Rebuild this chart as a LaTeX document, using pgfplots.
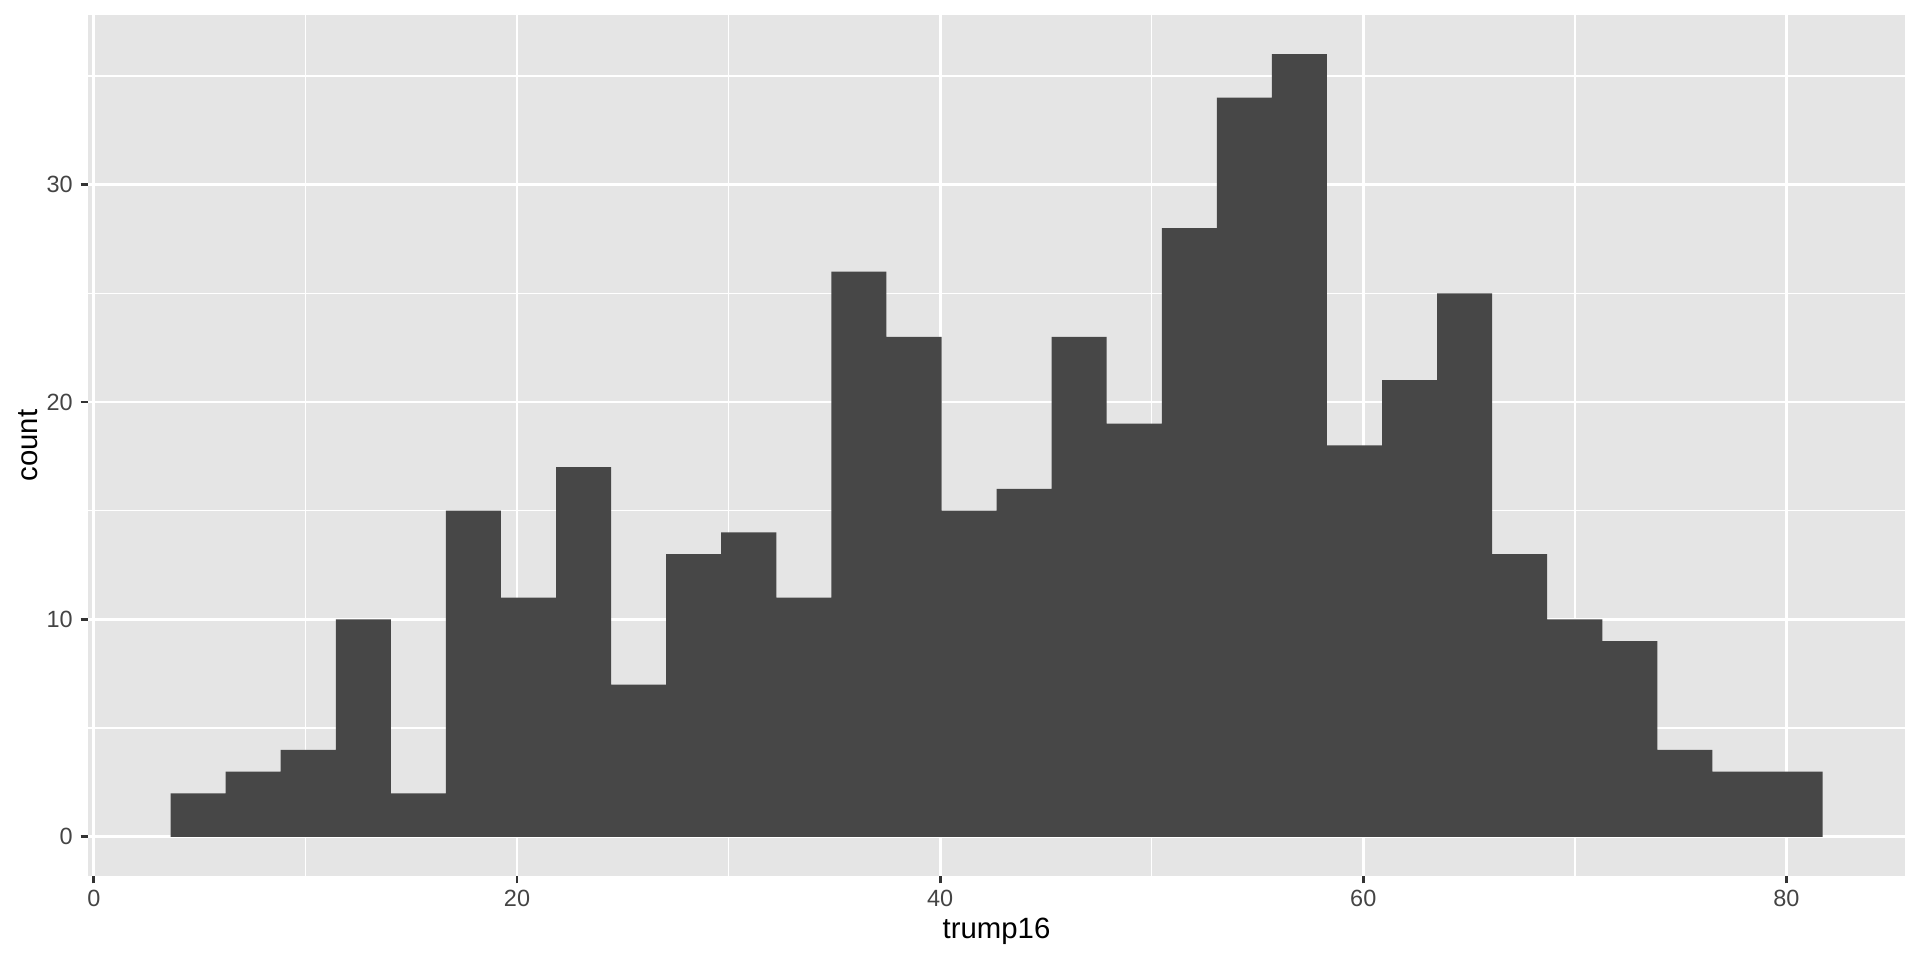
\documentclass[border=0pt]{standalone}
\usepackage{fontspec}
\setmainfont{Liberation Sans}
\usepackage{pgfplots}
\pgfplotsset{compat=1.18}
\definecolor{panelbg}{HTML}{E5E5E5}
\definecolor{barfill}{HTML}{474747}
\definecolor{ticktext}{HTML}{444444}
\definecolor{tickcol}{HTML}{333333}
\begin{document}
\begin{tikzpicture}
\useasboundingbox (0,0) rectangle (720pt,360pt);
\begin{axis}[
  at={(33pt,31.5pt)}, anchor=south west,
  scale only axis, width=681.4pt, height=322.9pt,
  xmin=-0.278, xmax=85.61, ymin=-1.8, ymax=37.8,
  axis background/.style={fill=panelbg},
  axis line style={draw=none},
  xtick={0,20,40,60,80}, ytick={0,10,20,30},
  minor xtick={10,30,50,70}, minor ytick={5,15,25,35},
  grid=both,
  major grid style={white, line width=1.07pt},
  minor grid style={white, line width=0.53pt},
  tick pos=lower, tick align=outside,
  major tick length=2.75pt, minor tick length=0pt,
  tick style={tickcol, line width=1.07pt},
  /pgf/number format/assume math mode=true,
  ticklabel style={font=\fontsize{8.8}{10}\selectfont, text=ticktext, inner sep=0pt},
  xticklabel style={anchor=north, yshift=-2.5pt},
  yticklabel style={anchor=east, xshift=-2.75pt},
  xlabel={trump16}, ylabel={count},
  label style={font=\fontsize{11}{13}\selectfont, text=black, inner sep=0pt},
  xlabel style={at={(axis description cs:0.5,0)}, anchor=base, yshift=-23.6pt},
  ylabel style={at={(axis description cs:0,0.5)}, anchor=base, yshift=19.1pt},
]
\addplot[ybar interval, fill=barfill, draw=none] coordinates {
(3.626,2) (6.229,3) (8.832,4) (11.434,10) (14.037,2)
(16.640,15) (19.243,11) (21.846,17) (24.448,7) (27.051,13)
(29.654,14) (32.257,11) (34.860,26) (37.462,23) (40.065,15)
(42.668,16) (45.271,23) (47.874,19) (50.476,28) (53.079,34)
(55.682,36) (58.285,18) (60.888,21) (63.490,25) (66.093,13)
(68.696,10) (71.299,9) (73.902,4) (76.504,3) (79.107,3)
(81.710,3)
};
\end{axis}
\end{tikzpicture}
\end{document}
